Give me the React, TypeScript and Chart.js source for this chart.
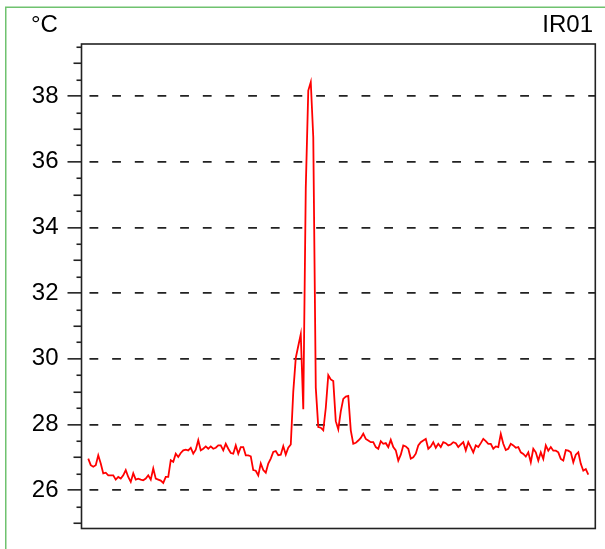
import React, { useEffect, useRef } from "react";
import { Chart, registerables } from "chart.js";

Chart.register(...registerables);

// Temperature readings (°C), evenly sampled along the x direction
const temps: number[] = [
  26.96, 26.76, 26.71, 26.76, 27.06, 26.81, 26.51, 26.53, 26.45, 26.45,
  26.45, 26.32, 26.40, 26.35, 26.45, 26.61, 26.40, 26.25, 26.51, 26.32,
  26.35, 26.32, 26.30, 26.35, 26.45, 26.32, 26.66, 26.35, 26.32, 26.29,
  26.22, 26.40, 26.40, 26.91, 26.86, 27.11, 27.01, 27.13, 27.21, 27.23,
  27.21, 27.29, 27.11, 27.23, 27.52, 27.21, 27.26, 27.33, 27.26, 27.33,
  27.26, 27.29, 27.36, 27.36, 27.21, 27.41, 27.26, 27.13, 27.11, 27.36,
  27.11, 27.31, 27.31, 27.06, 27.06, 27.03, 26.61, 26.59, 26.45, 26.81,
  26.61, 26.53, 26.81, 26.96, 27.16, 27.19, 27.06,
  27.08, 27.34, 27.08, 27.29, 27.39, 29.0, 30.03, 30.39, 30.75, 28.46,
  35.2, 38.17, 38.43, 36.75, 29.12, 27.92, 27.9, 27.82, 28.5, 29.5,
  29.37, 29.32, 28.1, 27.85, 28.4, 28.78,
  28.85, 28.87, 27.82, 27.41, 27.44, 27.51, 27.59, 27.72, 27.56, 27.51,
  27.46, 27.46, 27.31, 27.26, 27.49, 27.41, 27.43, 27.31, 27.53, 27.31,
  27.21, 26.90, 27.08, 27.36, 27.33, 27.26, 26.96, 27.00, 27.11, 27.36,
  27.46, 27.51, 27.56, 27.26, 27.33, 27.46, 27.29, 27.41, 27.31, 27.46,
  27.43, 27.36, 27.39, 27.46, 27.43, 27.31, 27.39, 27.46, 27.21, 27.46,
  27.31, 27.15, 27.36, 27.31, 27.43, 27.56, 27.49, 27.41, 27.41, 27.26,
  27.33, 27.31, 27.71, 27.41, 27.22, 27.26, 27.41, 27.36, 27.29, 27.31,
  27.15, 27.10, 27.02, 27.15, 26.85, 27.26, 27.15, 26.90, 27.15, 26.95,
  27.36, 27.20, 27.31, 27.20, 27.20, 27.15, 26.95, 26.90, 27.22, 27.20,
  27.15, 26.85, 27.08, 27.15, 26.80, 26.59, 26.64, 26.47,
];

const yMin = 24.83;
const yMax = 39.59;
const majorStep = 2;
const minorStep = 0.5;
const unitLabel = "°C";
const channelLabel = "IR01";

const FONT = "'Liberation Sans', Arial, sans-serif";

export default function App() {
  const ref = useRef<HTMLCanvasElement>(null);

  useEffect(() => {
    const canvas = ref.current!;
    const framePlugin = {
      id: "frame",
      beforeDraw(chart: any) {
        const ctx = chart.ctx;
        ctx.save();
        ctx.strokeStyle = "#6fc26f";
        ctx.lineWidth = 1.5;
        ctx.beginPath();
        ctx.moveTo(5.75, 549);
        ctx.lineTo(5.75, 7.25);
        ctx.lineTo(605, 7.25);
        ctx.stroke();
        ctx.restore();
      },
      afterDraw(chart: any) {
        const ctx = chart.ctx;
        const a = chart.chartArea;
        const ys = chart.scales.y;
        ctx.save();
        ctx.strokeStyle = "#222";
        ctx.lineWidth = 1.6;
        ctx.setLineDash([]);
        ctx.strokeRect(a.left, a.top, a.right - a.left, a.bottom - a.top);
        // minor ticks
        for (let v = Math.ceil(yMin / minorStep) * minorStep; v <= yMax; v += minorStep) {
          const r = Math.round(v * 2) / 2;
          if (Number.isInteger(r) && r % majorStep === 0) continue;
          const len = Number.isInteger(r) ? 8 : 5;
          const y = Math.round(ys.getPixelForValue(r)) + 0.25;
          ctx.beginPath();
          ctx.moveTo(a.left - len, y);
          ctx.lineTo(a.left, y);
          ctx.stroke();
        }
        ctx.fillStyle = "#000";
        ctx.font = `24px ${FONT}`;
        ctx.textBaseline = "alphabetic";
        ctx.textAlign = "left";
        ctx.fillText(unitLabel, 31, 31.5);
        ctx.textAlign = "right";
        ctx.fillText(channelLabel, 593, 31.5);
        ctx.restore();
      },
    };

    const chart = new Chart(canvas, {
      type: "line",
      data: {
        datasets: [
          {
            data: temps.map((v, i) => ({ x: i, y: v })),
            borderColor: "#ff0000",
            borderWidth: 1.8,
            pointRadius: 0,
            tension: 0,
            fill: false,
          },
        ],
      },
      options: {
        responsive: false,
        animation: false,
        layout: { padding: { left: 0, top: 44, right: 9.7, bottom: 20.5 } },
        plugins: { legend: { display: false }, tooltip: { enabled: false } },
        scales: {
          x: { type: "linear", display: false, min: -2.7, max: temps.length - 1 + 2.8 },
          y: {
            min: yMin,
            max: yMax,
            afterFit(s: any) {
              s.width = 81.5;
              s.paddingTop = 0;
              s.paddingBottom = 0;
            },
            ticks: {
              stepSize: majorStep,
              includeBounds: false,
              color: "#000",
              font: { family: FONT, size: 24 },
              padding: 9,
            },
            grid: {
              color: "#222",
              lineWidth: 1.7,
              tickLength: 14,
              tickColor: "#222",
              tickWidth: 1.6,
              tickBorderDash: [],
            },
            border: { display: false, dash: [8.8, 13.87], dashOffset: 15.2 },
          },
        },
      } as any,
      plugins: [framePlugin],
    });
    return () => chart.destroy();
  }, []);

  return (
    <canvas
      ref={ref}
      width={605}
      height={549}
      style={{ position: "fixed", left: 0, top: 0, width: 605, height: 549 }}
    />
  );
}
